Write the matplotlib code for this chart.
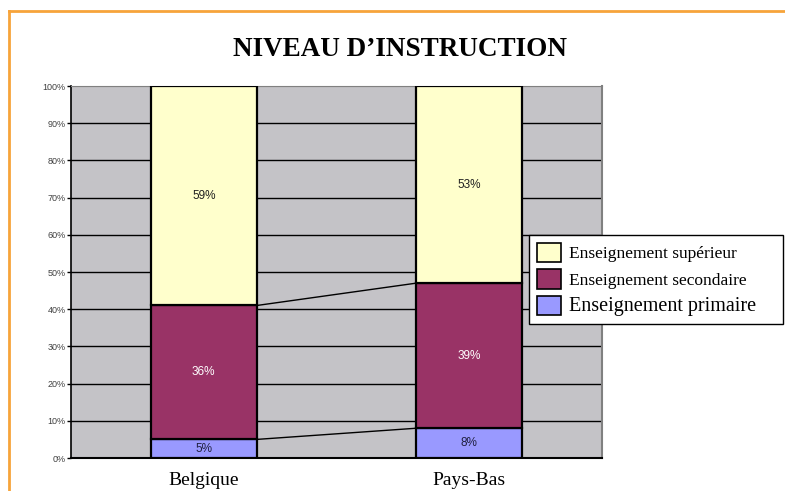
import numpy as np
import matplotlib
matplotlib.use("Agg")
import matplotlib.pyplot as plt
from matplotlib.lines import Line2D
from matplotlib.patches import Patch

# data
pays = ["Belgique", "Pays-Bas"]
series = ["Enseignement supérieur", "Enseignement secondaire", "Enseignement primaire"]
primaire = [5, 8]
secondaire = [36, 39]
superieur = [59, 53]
colors = {"primaire": "#9999FF", "secondaire": "#993366", "superieur": "#FFFFCC"}
yticks = np.arange(0, 101, 10)

fig = plt.figure(figsize=(7.85, 4.91), dpi=100)
ax = fig.add_axes([71/785, 1-458/491, (602-71)/785, (458-86)/491])
ax.set_facecolor("#C4C3C7")

x = np.arange(len(pays))
w = 0.4
bottom2 = np.array(primaire)
bottom3 = bottom2 + np.array(secondaire)

ax.bar(x, primaire, w, color=colors["primaire"], edgecolor="black", lw=1.6, zorder=3)
ax.bar(x, secondaire, w, bottom=bottom2, color=colors["secondaire"], edgecolor="black", lw=1.6, zorder=3)
ax.bar(x, superieur, w, bottom=bottom3, color=colors["superieur"], edgecolor="black", lw=1.6, zorder=3)

# series lines between bars
for tops in (bottom2, bottom3):
    ax.plot([x[0] + w/2, x[1] - w/2], [tops[0], tops[1]], color="black", lw=1, zorder=2)

# data labels
for i in range(len(pays)):
    ax.text(x[i], primaire[i]/2, f"{primaire[i]}%", ha="center", va="center",
            fontsize=8.5, color="#202040", family="Liberation Sans", zorder=4)
    ax.text(x[i], bottom2[i] + secondaire[i]/2, f"{secondaire[i]}%", ha="center", va="center",
            fontsize=8.5, color="white", family="Liberation Sans", zorder=4)
    ax.text(x[i], bottom3[i] + superieur[i]/2, f"{superieur[i]}%", ha="center", va="center",
            fontsize=8.5, color="#202020", family="Liberation Sans", zorder=4)

ax.set_xlim(-0.5, 1.5)
ax.set_ylim(0, 100)
ax.set_yticks(yticks)
ax.set_yticklabels([f"{v}%" for v in yticks], fontsize=6.5, color="#404040", family="Liberation Sans")
for v in yticks[1:-1]:
    ax.axhline(v, color="black", lw=1, zorder=1)
ax.axhline(100, color="#808080", lw=1.5, zorder=1)
ax.set_xticks(x)
ax.set_xticklabels(pays, fontsize=14, family="Liberation Serif")
ax.tick_params(axis="x", length=0, pad=10)
ax.tick_params(axis="y", length=3, width=1, pad=1)
ax.spines["left"].set_linewidth(1.2)
ax.spines["bottom"].set_linewidth(1.5)
ax.spines["top"].set_color("#808080")
ax.spines["right"].set_color("#808080")
ax.spines["right"].set_linewidth(1.5)

handles = [Patch(facecolor=colors["superieur"], edgecolor="black", lw=1.2),
           Patch(facecolor=colors["secondaire"], edgecolor="black", lw=1.2),
           Patch(facecolor=colors["primaire"], edgecolor="black", lw=1.2)]
leg = fig.legend(handles, series, loc="upper left",
                 bbox_to_anchor=(529/785, 1-326/491, (783-529)/785, 91/491), mode="expand",
                 prop={"family": "Liberation Serif", "size": 12.5}, fancybox=False,
                 edgecolor="black", framealpha=1, handlelength=1.4, handleheight=1.35,
                 borderpad=0.45, labelspacing=0.4, handletextpad=0.45, borderaxespad=0)
leg.get_frame().set_linewidth(1)
leg.get_texts()[2].set_fontsize(14.5)

fig.text(400/785, 1-49/491, "NIVEAU D\u2019INSTRUCTION", ha="center", va="center",
         fontsize=19.5, fontweight="bold", family="Liberation Serif")

# orange frame
fig.add_artist(Line2D([9/785, 1], [1-11/491]*2, color="#F7A43A", lw=2, transform=fig.transFigure))
fig.add_artist(Line2D([9/785]*2, [0, 1-11/491], color="#F7A43A", lw=2, transform=fig.transFigure))

fig.savefig("out.png", dpi=100)
